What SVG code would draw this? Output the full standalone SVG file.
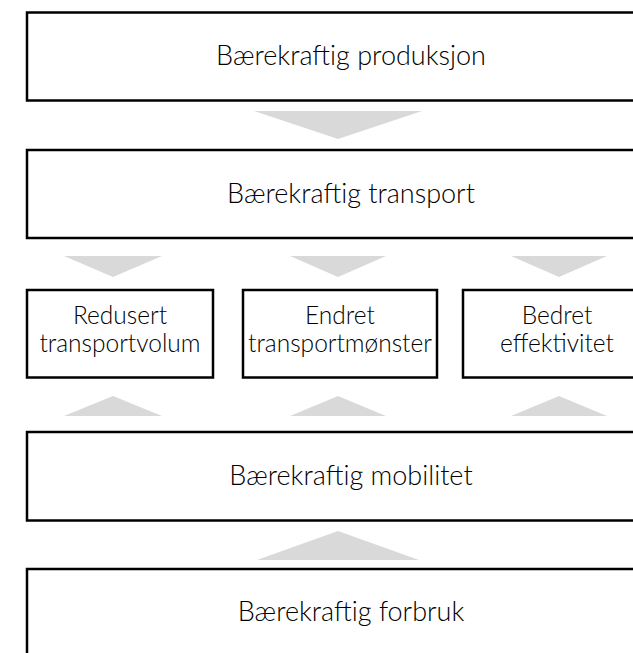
<svg xmlns="http://www.w3.org/2000/svg" width="633" height="653" viewBox="0 0 633 653">
<style>
.box{fill:#ffffff;stroke:#000000;stroke-width:2.5}
.arr{fill:#d9d9d9;stroke:none}
text{font-family:Lato,"Noto Sans","Liberation Sans",sans-serif;font-weight:300;font-size:27px;fill:#000000;text-anchor:middle}
text.s{font-size:24.5px}
</style>
<rect width="633" height="653" fill="#ffffff"/>
<g id="connectors">
<polygon class="arr" points="254,111 422,111 338,139"/>
<polygon class="arr" points="64,256 162,256 113,277"/>
<polygon class="arr" points="290,256 386,256 338,277"/>
<polygon class="arr" points="511,256 607,256 559,277"/>
<polygon class="arr" points="64,416 162,416 113,396"/>
<polygon class="arr" points="290,416 386,416 338,396"/>
<polygon class="arr" points="511,416 607,416 559,396"/>
<polygon class="arr" points="257,560 419,560 338,531"/>
</g>
<g id="n1"><rect class="box" x="27" y="12.5" width="648" height="88"/><text x="351" y="65">Bærekraftig produksjon</text></g>
<g id="n2"><rect class="box" x="27" y="150" width="648" height="88"/><text x="351" y="203">Bærekraftig transport</text></g>
<g id="n3"><rect class="box" x="27" y="290" width="186" height="87.5"/><text class="s" x="120" y="324">Redusert</text><text class="s" x="120" y="352">transportvolum</text></g>
<g id="n4"><rect class="box" x="243" y="290" width="194" height="87.5"/><text class="s" x="340" y="324">Endret</text><text class="s" x="340" y="352">transportmønster</text></g>
<g id="n5"><rect class="box" x="463" y="290" width="188" height="87.5"/><text class="s" x="557" y="324">Bedret</text><text class="s" x="557" y="352">effektivitet</text></g>
<g id="n6"><rect class="box" x="27" y="432" width="648" height="88.5"/><text x="351" y="485">Bærekraftig mobilitet</text></g>
<g id="n7"><rect class="box" x="27" y="569" width="648" height="120"/><text x="351" y="621">Bærekraftig forbruk</text></g>
</svg>
